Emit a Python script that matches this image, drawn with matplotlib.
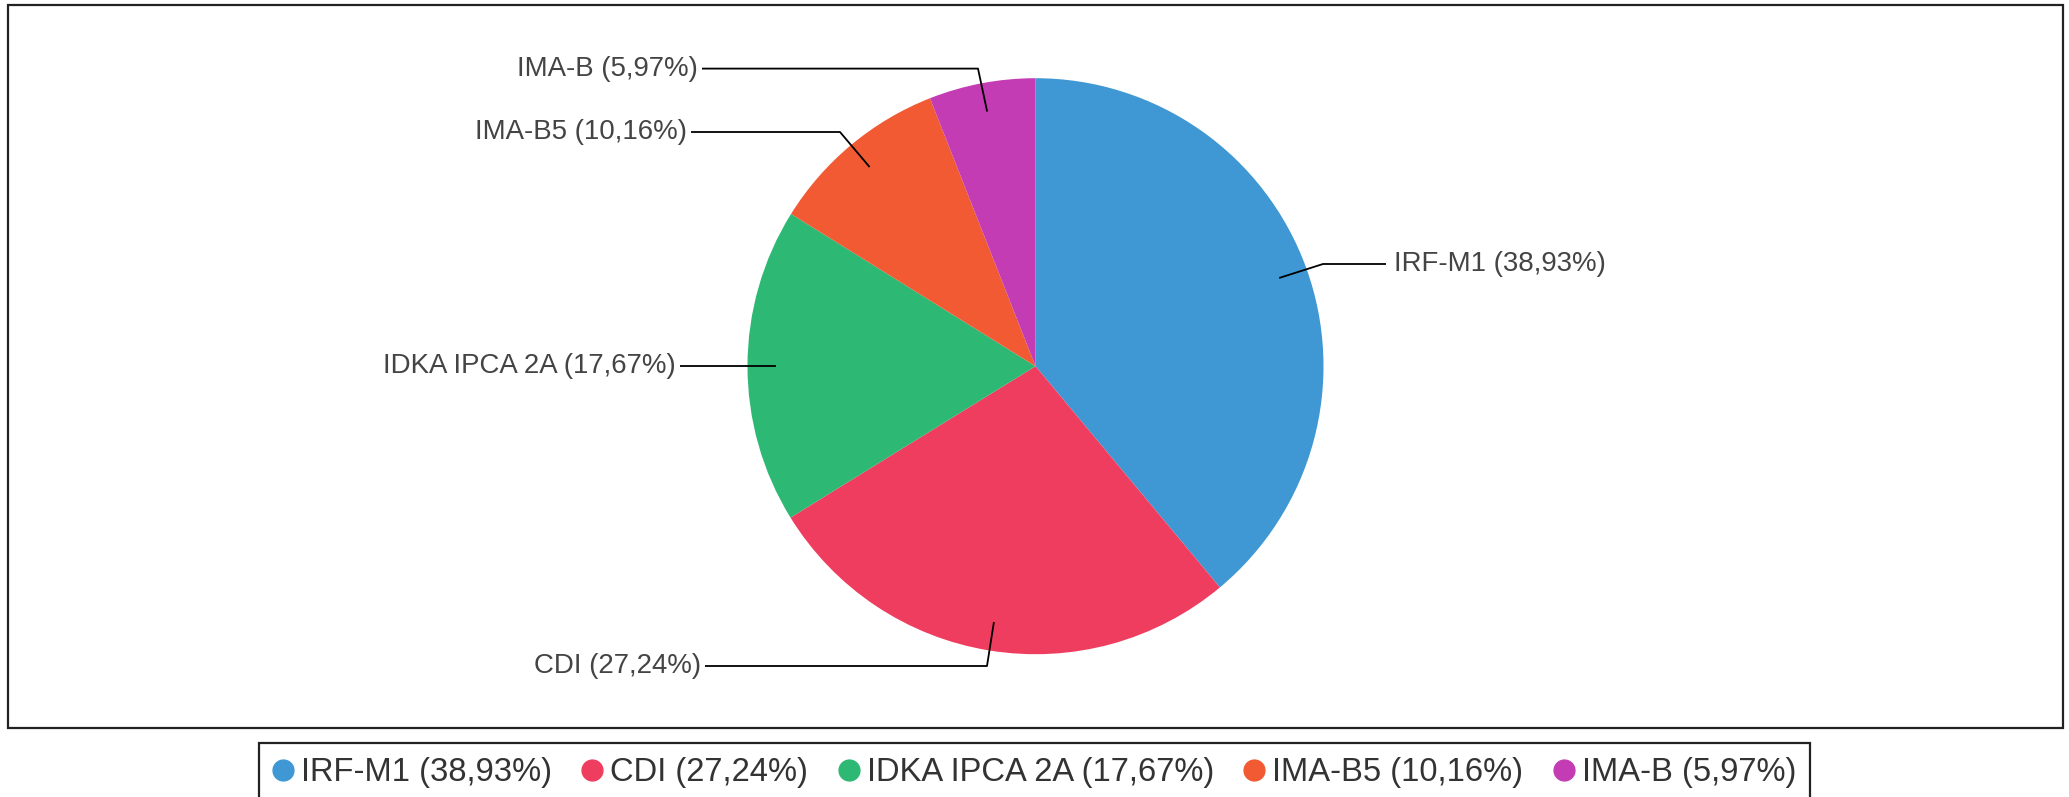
import matplotlib
matplotlib.use("Agg")
import matplotlib.pyplot as plt
from matplotlib.lines import Line2D
from matplotlib.patches import Rectangle
import numpy as np

plt.rcParams['font.family'] = ['Liberation Sans', 'DejaVu Sans']

# ---- data ----
categories = ["IRF-M1", "CDI", "IDKA IPCA 2A", "IMA-B5", "IMA-B"]
values = [38.93, 27.24, 17.67, 10.16, 5.97]
pct_labels = ["38,93%", "27,24%", "17,67%", "10,16%", "5,97%"]
colors = ["#3f98d4", "#ef3d5f", "#2db874", "#f15a33", "#c33cb3"]

# ---- layout (pixels) ----
W, H = 2069, 797
cx, cy, R = 1035.5, 366.2, 288.0

def Y(py):
    return H - py

fig = plt.figure(figsize=(W / 100, H / 100), dpi=100)
ax = fig.add_axes([0, 0, 1, 1])

wedges, _ = ax.pie(values, colors=colors, startangle=90, counterclock=False,
                   center=(cx, Y(cy)), radius=R,
                   wedgeprops=dict(linewidth=0))
ax.set_xlim(0, W)
ax.set_ylim(0, H)
ax.set_aspect('auto')
ax.axis('off')

# label layout: elbow x, text y, line end x, side
anchor_frac = 0.9
elbow_x = [1323, 987, None, 840, 978]
text_y = [264, 666, 366, 132, 68.6]
line_end_x = [1386, 705, 680, 691, 702]
side = ['left', 'right', 'right', 'right', 'right']

for i, w in enumerate(wedges):
    mid = np.deg2rad((w.theta1 + w.theta2) / 2)
    ax_x = cx + anchor_frac * R * np.cos(mid)
    ax_y = Y(cy) + anchor_frac * R * np.sin(mid)
    ex = elbow_x[i] if elbow_x[i] is not None else ax_x
    ty = Y(text_y[i])
    ax.plot([ax_x, ex, line_end_x[i]], [ax_y, ty, ty], color='black', lw=1.3,
            solid_capstyle='butt', zorder=3)
    label = f"{categories[i]} ({pct_labels[i]})"
    if side[i] == 'left':
        ax.text(line_end_x[i] + 8, ty, label, ha='left', va='center',
                fontsize=19.9, color='#444444')
    else:
        ax.text(line_end_x[i] - 4, ty, label, ha='right', va='center',
                fontsize=19.9, color='#444444')

# outer frame
ax.add_patch(Rectangle((8, Y(728)), 2063 - 8, 728 - 5, fill=False,
                       edgecolor='#222222', lw=1.6, zorder=5))

# legend
handles = [Line2D([0], [0], marker='o', linestyle='none', markersize=15,
                  markerfacecolor=c, markeredgecolor=c) for c in colors]
labels = [f"{c} ({p})" for c, p in zip(categories, pct_labels)]
leg = fig.legend(handles, labels, loc='upper center', ncol=5,
                 bbox_to_anchor=(0.5, 1 - 743 / H), bbox_transform=fig.transFigure,
                 fontsize=23.6, frameon=True, fancybox=False, framealpha=1,
                 edgecolor='#222222', handlelength=0.62, handletextpad=0.24,
                 columnspacing=0.92, borderpad=0.44, borderaxespad=0)
leg.get_frame().set_linewidth(1.6)
for t in leg.get_texts():
    t.set_color('#333333')

fig.savefig("out.png", dpi=100)
